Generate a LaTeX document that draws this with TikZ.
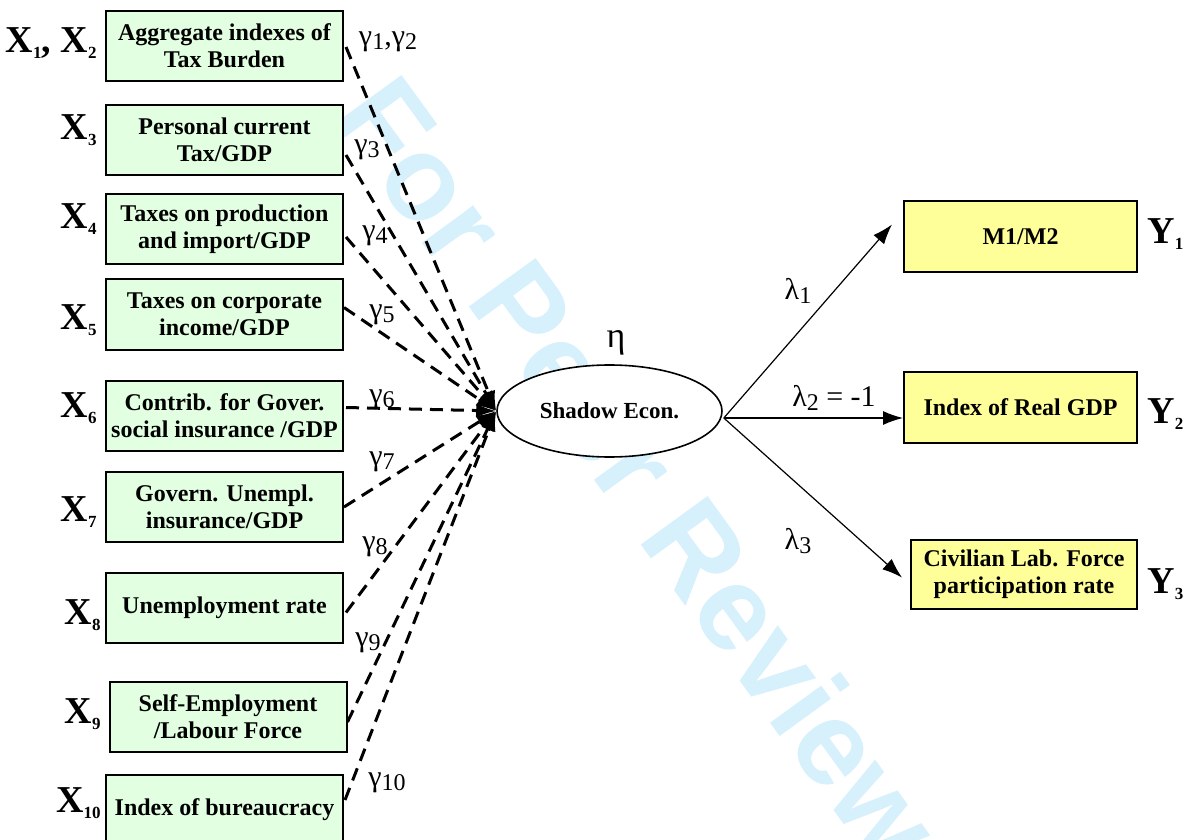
\documentclass[tikz,border=0pt]{standalone}
\usepackage{fontspec}
\setmainfont{Liberation Serif}
\newfontfamily\wmfont{Liberation Sans}
\usetikzlibrary{arrows.meta,calc,shapes.geometric}

\definecolor{xgreen}{RGB}{226,255,226}
\definecolor{yyellow}{RGB}{255,255,153}
\definecolor{wmblue}{RGB}{214,240,252}

\newcommand{\varlab}[2]{{\fontsize{19}{19}\selectfont\bfseries #1}\raisebox{-3pt}{\fontsize{8.5}{8.5}\selectfont\bfseries #2}}
\newcommand{\coefsub}[2]{#1\raisebox{-2pt}{\fontsize{12}{12}\selectfont #2}}

\begin{document}
\begin{tikzpicture}[x=0.5pt, y=-0.5pt,
        xbox/.style={rectangle, draw, line width=1pt, fill=xgreen, minimum width=118.5pt, minimum height=35pt, inner sep=1pt, align=center, font=\fontsize{12}{13.5}\selectfont\bfseries},
        ybox/.style={xbox, fill=yyellow, minimum width=116.5pt, minimum height=35.5pt},
        latent/.style={ellipse, draw, line width=0.8pt, fill=white, minimum width=112.5pt, minimum height=46pt, inner sep=0pt, font=\fontsize{11.5}{13}\selectfont\bfseries},
        varname/.style={inner sep=0pt},
        coef/.style={inner sep=0pt, font=\fontsize{15}{15}\selectfont},
        xarrow/.style={-{Latex[length=10pt, width=7pt]}, line width=1.5pt, dash pattern=on 6.5pt off 4pt},
        yarrow/.style={-{Latex[length=10pt, width=7pt]}, line width=0.6pt}
      ]
        \useasboundingbox (0,0) rectangle (1185,840);

        % Watermark
        \node[rotate=-54, text=wmblue, font=\wmfont\fontsize{60}{60}\selectfont\bfseries] (wm) at (640,470) {For Peer Review};

        % Causes
        \node[xbox] (b1) at (224.5,46) {Aggregate indexes of\\Tax Burden};
        \node[xbox] (b2) at (224.5,140) {Personal current\\Tax/GDP};
        \node[xbox] (b3) at (224.5,229) {Taxes on production\\and import/GDP};
        \node[xbox] (b4) at (224.5,314.5) {Taxes on corporate\\income/GDP};
        \node[xbox] (b5) at (224.5,415.5) {Contrib. for Gover.\\social insurance /GDP};
        \node[xbox] (b6) at (224.5,507) {Govern. Unempl.\\insurance/GDP};
        \node[xbox] (b7) at (224.5,607.5) {Unemployment rate};
        \node[xbox] (b8) at (228,717) {Self-Employment\\/Labour Force};
        \node[xbox] (b9) at (224.5,810) {Index of bureaucracy};

        \node[varname, anchor=east] (x12) at (97,43) {\varlab{X}{1}{\fontsize{19}{19}\selectfont\bfseries, }\varlab{X}{2}};
        \node[varname, anchor=east] (x3) at (97,130) {\varlab{X}{3}};
        \node[varname, anchor=east] (x4) at (97,219) {\varlab{X}{4}};
        \node[varname, anchor=east] (x5) at (97,320) {\varlab{X}{5}};
        \node[varname, anchor=east] (x6) at (97,408) {\varlab{X}{6}};
        \node[varname, anchor=east] (x7) at (97,512) {\varlab{X}{7}};
        \node[varname, anchor=east] (x8) at (101,615) {\varlab{X}{8}};
        \node[varname, anchor=east] (x9) at (101,714) {\varlab{X}{9}};
        \node[varname, anchor=east] (x10) at (101,803) {\varlab{X}{10}};

        % Latent variable
        \node[latent] (shadow) at (609.5,411) {Shadow Econ.};
        \node[coef, font=\fontsize{18}{18}\selectfont] (eta) at (616,343) {η};

        % Indicators
        \node[ybox] (m1) at (1020.5,236.5) {M1/M2};
        \node[ybox] (idx) at (1020.5,407.5) {Index of Real GDP};
        \node[ybox, minimum width=113pt, minimum height=34.5pt] (civ) at (1024,574.5) {Civilian Lab. Force\\participation rate};

        \node[varname, anchor=west] (y1) at (1147,234) {\varlab{Y}{1}};
        \node[varname, anchor=west] (y2) at (1147,414) {\varlab{Y}{2}};
        \node[varname, anchor=west] (y3) at (1147,584) {\varlab{Y}{3}};

        % Arrows for gamma (causes)
        \draw[xarrow] ($(b1.east)+(2,1)$) -- (shadow.west);
        \draw[xarrow] ($(b2.east)+(2,15)$) -- (shadow.west);
        \draw[xarrow] ($(b3.east)+(2,8)$) -- (shadow.west);
        \draw[xarrow] ($(b4.east)+(0,-7)$) -- (shadow.west);
        \draw[xarrow] ($(b5.east)+(2,-8)$) -- (shadow.west);
        \draw[xarrow] (b6.east) -- (shadow.west);
        \draw[xarrow] ($(b7.east)+(2,5)$) -- (shadow.west);
        \draw[xarrow] ($(b8.east)+(0,5)$) -- (shadow.west);
        \draw[xarrow] ($(b9.east)+(1,-10)$) -- (shadow.west);

        \node[coef] (g12) at (388,42) {\coefsub{γ}{1},\coefsub{γ}{2}};
        \node[coef] (g3) at (367,150) {\coefsub{γ}{3}};
        \node[coef] (g4) at (375,236) {\coefsub{γ}{4}};
        \node[coef] (g5) at (382,315) {\coefsub{γ}{5}};
        \node[coef] (g6) at (382,400) {\coefsub{γ}{6}};
        \node[coef] (g7) at (382,462) {\coefsub{γ}{7}};
        \node[coef] (g8) at (375,547) {\coefsub{γ}{8}};
        \node[coef] (g9) at (368,643) {\coefsub{γ}{9}};
        \node[coef] (g10) at (387,783) {\coefsub{γ}{10}};

        % Arrows for lambda (indicators)
        \coordinate (hub) at ($(shadow.east)+(1,7)$);
        \draw[yarrow] (hub) -- ($(m1.west)+(-11,-12)$);
        \draw[yarrow] (hub) -- (hub -| idx.west);
        \draw[yarrow] (hub) -- ($(civ.west)+(-8,3)$);

        \node[coef] (l1) at (798,291) {\coefsub{λ}{1}};
        \node[coef] (l2) at (834,398) {\coefsub{λ}{2} = -1};
        \node[coef] (l3) at (798,541) {\coefsub{λ}{3}};

    \end{tikzpicture}
\end{document}
